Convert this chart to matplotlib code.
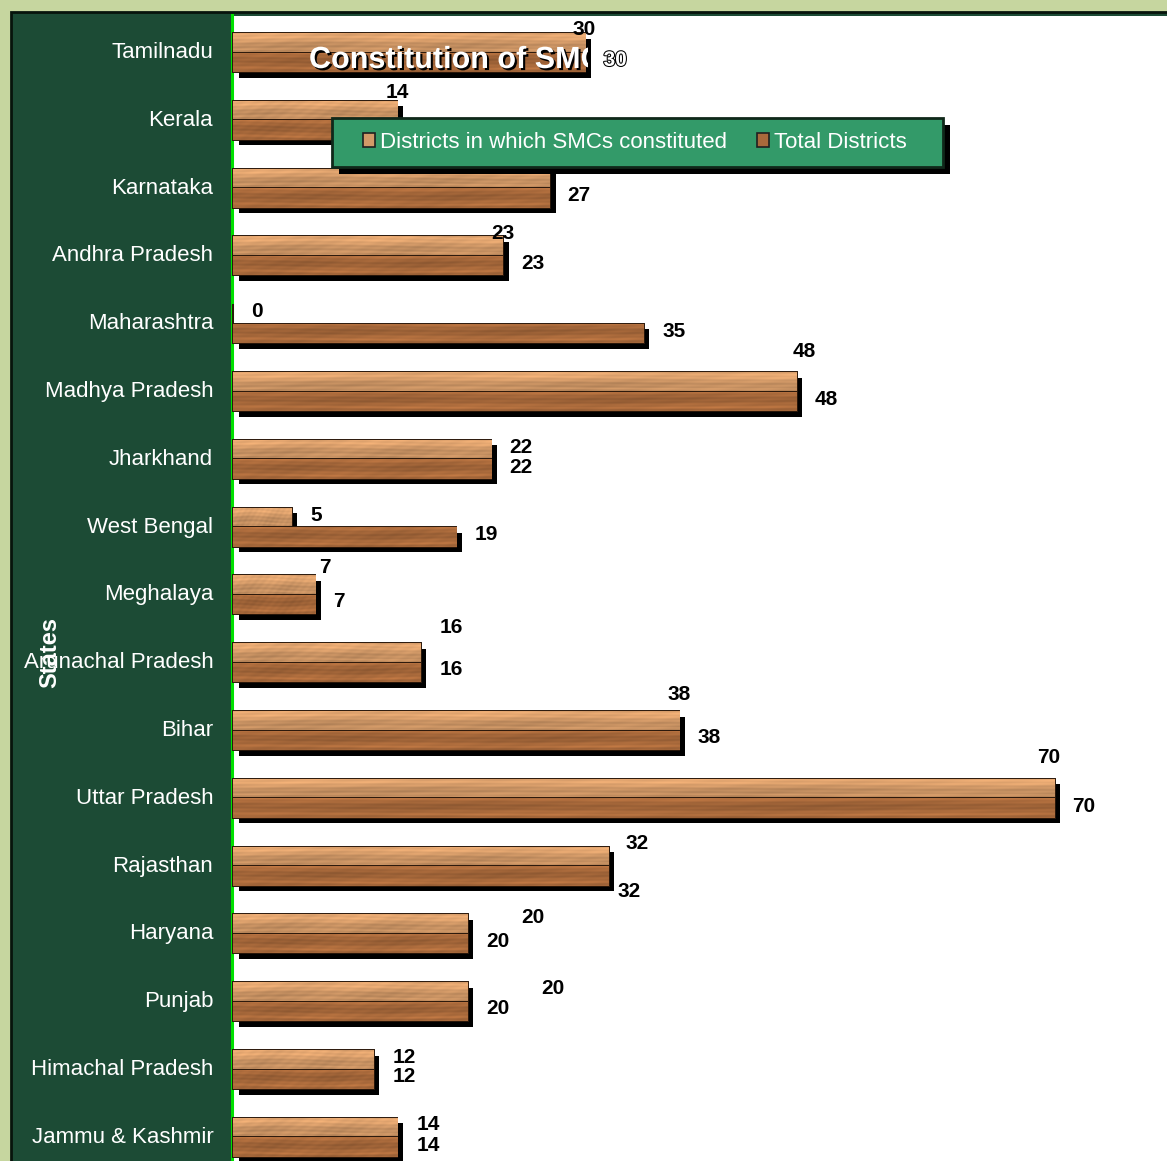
import numpy as np
import matplotlib
matplotlib.use("Agg")
import matplotlib.pyplot as plt
from matplotlib.patches import Rectangle, Patch
from matplotlib.transforms import Bbox, TransformedBbox
import matplotlib.patheffects as pe

plt.rcParams['font.family'] = ['Liberation Sans', 'DejaVu Sans']

# data, top to bottom as in the picture
states = ['Tamilnadu', 'Kerala', 'Karnataka', 'Andhra Pradesh', 'Maharashtra',
          'Madhya Pradesh', 'Jharkhand', 'West Bengal', 'Meghalaya',
          'Arunachal Pradesh', 'Bihar', 'Uttar Pradesh', 'Rajasthan', 'Haryana',
          'Punjab', 'Himachal Pradesh', 'Jammu & Kashmir']
smc_districts = [30, 14, 27, 23, 0, 48, 22, 5, 7, 16, 38, 70, 32, 20, 20, 12, 14]
total_districts = [30, 14, 27, 23, 35, 48, 22, 19, 7, 16, 38, 70, 32, 20, 20, 12, 14]
series_names = ['Districts in which SMCs constituted', 'Total Districts']

# where the value labels sit (pixels from bar end / bar middle, down = positive)
top_dx = [-1, 0, 12, 0, 24, 8, 30, 24, 10, 30, 0, -6, 28, 65, 85, 30, 31]
top_dy = [-13, -18, -18, -13, -2, -30, -2, -2, -18, -25, -26, -31, -13, -7, -3, -2, -3]
bot_dx = [30, 30, 29, 30, 30, 30, 30, 30, 24, 30, 30, 29, 20, 30, 30, 30, 31]
bot_dy = [-2, -2, -2, -2, -2, -1.5, -2, -2, -3, -3, -2.5, -2, 16, -2, -3, -2.5, -2]

W, H = 1167, 1161
light = '#d39a68'
dark = '#a8693b'

fig = plt.figure(figsize=(W / 100, H / 100), dpi=100, facecolor='#c6d69f')
# dark green side panel with thin black border
fig.add_artist(Rectangle((11 / W, -0.1), 1.2, 1 - 12.5 / H + 0.1, transform=fig.transFigure,
                         facecolor='#1c4b35', edgecolor='#07140c', lw=2, zorder=-5))

ax = fig.add_axes([232 / W, 0, (W - 232) / W, (H - 15.5) / H])
ax.set_facecolor('white')
for s in ['top', 'right', 'bottom']:
    ax.spines[s].set_visible(False)
ax.spines['left'].set_color('#00e000')
ax.spines['left'].set_linewidth(2.2)

rows = np.arange(len(states))
h = 0.288
shadow = [pe.SimplePatchShadow(offset=(4, -4), shadow_rgbFace='black', alpha=1), pe.Normal()]

bars1 = ax.barh(rows + 0.037 - h / 2, smc_districts, height=h, color=light,
                edgecolor='#2a170a', lw=1.4, zorder=3, path_effects=shadow)
bars2 = ax.barh(rows + 0.037 + h / 2, total_districts, height=h, color=dark,
                edgecolor='#2a170a', lw=1.4, zorder=4, path_effects=shadow)


def wood(base, nx=300, ny=24, phase=0.0):
    # plain wood-grain look: mostly horizontal streaks
    c = np.array(matplotlib.colors.to_rgb(base))
    yy, xx = np.mgrid[0:ny, 0:nx]
    t = yy / (ny - 1)
    prof = 1.0 + 0.09 * np.sin(np.pi * (2.0 * t + 0.2 + phase)) - 0.12 * (t > 0.9)
    streak = (0.045 * np.sin(yy * 1.4 + 2.0 * np.sin(xx * 0.017 + phase * 4))
              + 0.025 * np.sin(xx * 0.045 + yy * 0.15)
              + 0.02 * np.sin(xx * 0.23 + yy * 0.6))
    img = c[None, None, :] * (prof + streak)[:, :, None]
    return np.clip(img, 0, 1)


tex1 = wood(light, phase=0.0)
tex2 = wood(dark, phase=0.45)
for bars, tex, z in [(bars1, tex1, 3.05), (bars2, tex2, 4.05)]:
    for b in bars:
        if b.get_width() <= 0:
            continue
        x0, y0, w, hh = b.get_x(), b.get_y(), b.get_width(), b.get_height()
        im = ax.imshow(tex, extent=(x0, x0 + w, y0 + hh, y0), origin='upper',
                       aspect='auto', interpolation='bilinear', zorder=z)
        im.set_clip_path(b)

ax.set_xlim(-0.09, 79.56)
ax.set_ylim(16.386, -0.509)
ax.set_xticks([])
ax.set_yticks(rows, labels=states)
ax.tick_params(axis='y', length=0, pad=13.5, labelcolor='white', labelsize=16)

# value labels
for i, b in enumerate(bars1):
    ax.annotate(str(smc_districts[i]), (b.get_width(), b.get_y() + b.get_height() / 2),
                xytext=(top_dx[i], -top_dy[i]), textcoords='offset pixels',
                ha='center', va='center', fontsize=15, fontweight='bold', zorder=6,
                annotation_clip=False)
for i, b in enumerate(bars2):
    kw = dict(color='black')
    if i == 0:
        kw = dict(color='white', path_effects=[pe.withStroke(linewidth=1.5, foreground='black')])
    ax.annotate(str(total_districts[i]), (b.get_width(), b.get_y() + b.get_height() / 2),
                xytext=(bot_dx[i], -bot_dy[i]), textcoords='offset pixels',
                ha='center', va='center', fontsize=15, fontweight='bold', zorder=6,
                annotation_clip=False, **kw)

# title, cut off at the end of the first bar as in the original
title = fig.text(309 / W, 1 - 60 / H, 'Constitution of SMCs', color='white', fontsize=22,
                 fontweight='bold', ha='left', va='center', zorder=7,
                 path_effects=[pe.SimplePatchShadow(offset=(1.5, -1.5), shadow_rgbFace='black', alpha=1),
                               pe.Normal()])
title.set_clip_on(True)
title.set_clip_box(TransformedBbox(Bbox.from_extents(-1, -1, bars2[0].get_width() + 0.2, 1),
                                   ax.transData))

fig.text(50 / W, 1 - 652 / H, 'States', rotation=90, color='white', fontsize=17,
         fontweight='bold', ha='center', va='center', zorder=8)

# legend box
box = Rectangle((332 / W, 1 - 167 / H), (943 - 332) / W, 49 / H, transform=fig.transFigure,
                facecolor='#339a69', edgecolor='#10281a', lw=2, zorder=9, clip_on=False,
                path_effects=[pe.SimplePatchShadow(offset=(5, -5), shadow_rgbFace='black', alpha=1),
                              pe.Normal()])
ax.add_patch(box)
handles = [Patch(facecolor=light, edgecolor='#202020', lw=1.2),
           Patch(facecolor=dark, edgecolor='#202020', lw=1.2)]
leg = ax.legend(handles, series_names, ncol=2, loc='center left',
                bbox_to_anchor=(363 / W, 1 - 142 / H), bbox_transform=fig.transFigure,
                frameon=False, fontsize=16, labelcolor='white', borderpad=0, borderaxespad=0,
                handlelength=0.55, handleheight=0.6, handletextpad=0.22, columnspacing=1.35)
leg.set_zorder(10)

fig.savefig('out.png', dpi=100, facecolor=fig.get_facecolor())
